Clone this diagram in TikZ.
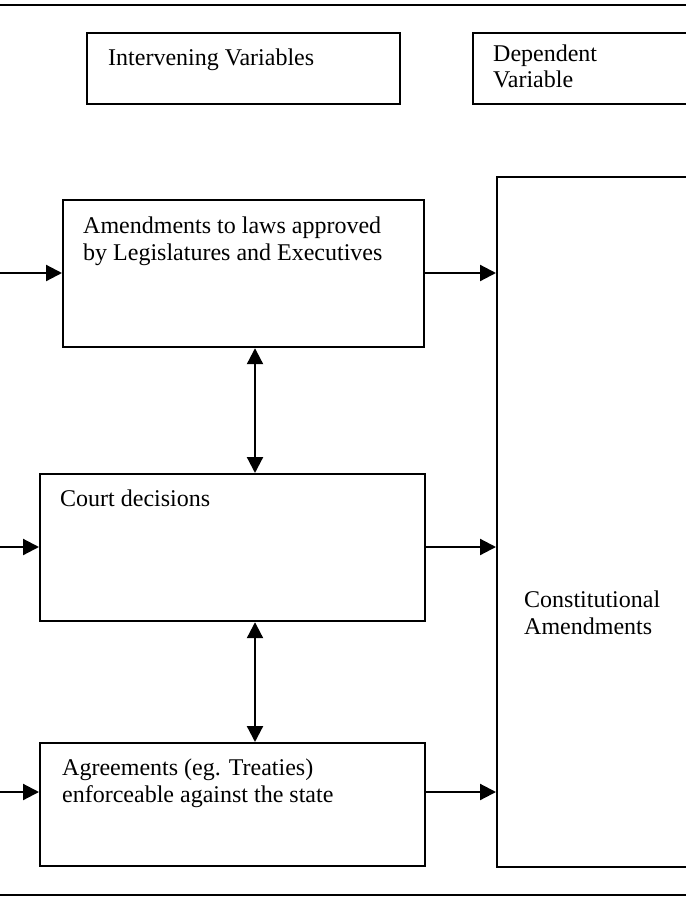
\documentclass[tikz,border=0pt]{standalone}
\usepackage{fontspec}
\setmainfont{Liberation Serif}
\usetikzlibrary{arrows.meta}
\begin{document}
\begin{tikzpicture}[x=1pt,y=-1pt,
  box/.style={draw, line width=2.2pt, inner sep=0pt, anchor=north west},
  lbl/.style={font=\fontsize{24}{27}\selectfont, inner sep=0pt, anchor=base west, align=left},
  arr/.style={line width=2.2pt, -{Triangle[length=16pt,width=16pt]}},
  darr/.style={line width=2.2pt, {Triangle[length=16pt,width=16pt]}-{Triangle[length=16pt,width=16pt]}},
  hrule/.style={line width=2.4pt}]
\path[use as bounding box] (0,0) rectangle (686,898);
\clip (0,0) rectangle (686,898);
% horizontal rules
\coordinate (tl) at (0,5); \coordinate (tr) at (686,5);
\coordinate (bl) at (0,895); \coordinate (br) at (686,895);
\draw[hrule] (tl) -- (tr);
\draw[hrule] (bl) -- (br);
% boxes
\node[box, minimum width=313pt, minimum height=71pt] (iv) at (86,32) {};
\node[box, minimum width=240pt, minimum height=71pt] (dv) at (472,32) {};
\node[box, minimum width=361pt, minimum height=147pt] (amd) at (62,199) {};
\node[box, minimum width=385pt, minimum height=147pt] (court) at (39,473) {};
\node[box, minimum width=385pt, minimum height=123pt] (agr) at (39,742) {};
\node[box, minimum width=220pt, minimum height=690pt] (con) at (496,176) {};
% texts (base anchor = baseline of last line)
\node[lbl] (tiv) at (108,65) {Intervening Variables};
\node[lbl, font=\fontsize{24}{26}\selectfont] (tdv) at (493,87) {Dependent\\Variable};
\node[lbl] (tamd) at (83,260) {Amendments to laws approved\\by Legislatures and Executives};
\node[lbl] (tcourt) at (60,506) {Court decisions};
\node[lbl] (tagr) at (62,802) {Agreements (eg. Treaties)\\enforceable against the state};
\node[lbl] (tcon) at (524,634) {Constitutional\\Amendments};
% incoming arrows
\coordinate (inA) at (0,273);
\coordinate (inB) at (0,547);
\coordinate (inC) at (0,792);
\draw[arr] (inA) -- (inA -| amd.west);
\draw[arr] (inB) -- (inB -| court.west);
\draw[arr] (inC) -- (inC -| agr.west);
% outgoing arrows
\draw[arr] (inA -| amd.east) -- (inA -| con.west);
\draw[arr] (inB -| court.east) -- (inB -| con.west);
\draw[arr] (inC -| agr.east) -- (inC -| con.west);
% double arrows
\coordinate (dx) at (255,0);
\draw[darr] (dx |- amd.south) -- (dx |- court.north);
\draw[darr] (dx |- court.south) -- (dx |- agr.north);
\end{tikzpicture}
\end{document}
